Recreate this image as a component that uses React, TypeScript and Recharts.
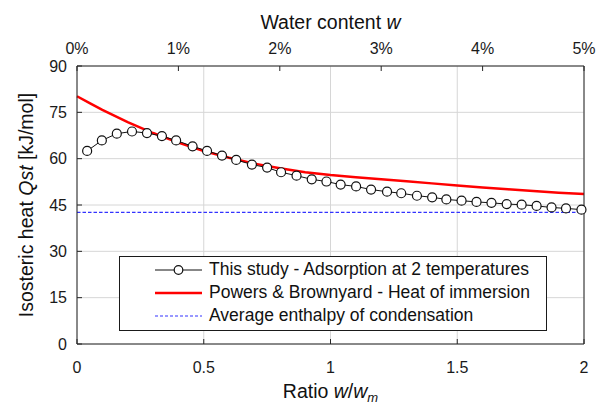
import React from 'react';
import { LineChart, Line, XAxis, YAxis, CartesianGrid, Legend } from 'recharts';

// ratio w/wm and isosteric heat (kJ/mol), this study
const studyRatio = [
  0.04, 0.098, 0.157, 0.217, 0.276, 0.335, 0.391, 0.456, 0.513, 0.572, 0.628, 0.69,
  0.75, 0.805, 0.866, 0.926, 0.984, 1.04, 1.101, 1.16, 1.223, 1.279, 1.341, 1.401,
  1.457, 1.517, 1.576, 1.635, 1.695, 1.754, 1.813, 1.872, 1.929, 1.99,
];
const studyQst = [
  62.5, 65.9, 68.1, 68.8, 68.3, 67.3, 65.9, 64.0, 62.5, 61.0, 59.6, 58.1,
  57.1, 55.6, 54.5, 53.3, 52.6, 51.6, 51.0, 50.0, 49.3, 48.8, 48.0, 47.5,
  46.8, 46.4, 46.0, 45.7, 45.3, 45.1, 44.7, 44.2, 43.9, 43.5,
];

// Powers & Brownyard, heat of immersion
const powersRatio = [0, 0.05, 0.1, 0.2, 0.3, 0.4, 0.5, 0.6, 0.7, 0.8, 0.9, 1.0, 1.1, 1.2, 1.3, 1.4, 1.5, 1.6, 1.7, 1.8, 1.9, 2.0];
const powersQst = [80.2, 78.0, 75.8, 71.8, 68.3, 65.2, 62.5, 60.3, 58.4, 56.9, 55.6, 54.7, 54.0, 53.3, 52.7, 52.0, 51.3, 50.7, 50.1, 49.5, 49.0, 48.6];

// average enthalpy of condensation, over water content 0-5 %
const avgWater = [0, 5];
const avgQst = [42.6, 42.6];

const ratioTicks = [0, 0.5, 1, 1.5, 2];
const waterTicks = [0, 1, 2, 3, 4, 5];
const qstTicks = [0, 15, 30, 45, 60, 75, 90];

const seriesNames = [
  'This study - Adsorption at 2 temperatures',
  'Powers & Brownyard - Heat of immersion',
  'Average enthalpy of condensation',
];

const studyData = studyRatio.map((x, i) => ({ x, y: studyQst[i] }));
const powersData = powersRatio.map((x, i) => ({ x, y: powersQst[i] }));
const avgData = avgWater.map((w, i) => ({ w, y: avgQst[i] }));

const FONT = '"Liberation Sans", Arial, Helvetica, sans-serif';
const AXIS = '#262626';
const tickStyle = { fontSize: 16, fill: '#1a1a1a', fontFamily: FONT };

const LegendBox = () => (
  <div
    style={{
      width: 426,
      height: 72,
      border: '1px solid #1a1a1a',
      background: '#fff',
      fontFamily: FONT,
      fontSize: 17.5,
      color: '#111',
      paddingTop: 1,
    }}
  >
    {seriesNames.map((name, i) => (
      <div key={name} style={{ display: 'flex', alignItems: 'center', height: 23.2, lineHeight: '23.2px' }}>
        <svg width={48} height={12} style={{ marginLeft: 35, marginRight: 6 }}>
          {i === 0 && (
            <>
              <line x1={0} y1={6} x2={47} y2={6} stroke="#111" strokeWidth={1} />
              <circle cx={23.5} cy={6} r={4.3} fill="#fff" stroke="#111" strokeWidth={1.2} />
            </>
          )}
          {i === 1 && <line x1={0} y1={6} x2={47} y2={6} stroke="#ff0000" strokeWidth={2.5} />}
          {i === 2 && <line x1={0} y1={6} x2={47} y2={6} stroke="#3333ff" strokeWidth={1.2} strokeDasharray="3 2" />}
        </svg>
        <span style={{ whiteSpace: 'nowrap' }}>{name}</span>
      </div>
    ))}
  </div>
);

const App = () => {
  return (
    <div style={{ position: 'absolute', left: 0, top: 0, background: '#fff' }}>
      <LineChart width={610} height={406} margin={{ top: 0, right: 0, bottom: 0, left: 0 }}>
        <CartesianGrid stroke="#d6d6d6" strokeWidth={1} />
        <XAxis
          type="number"
          dataKey="x"
          domain={[0, 2]}
          ticks={ratioTicks}
          height={62}
          stroke={AXIS}
          tick={tickStyle}
          tickSize={-5}
          tickMargin={23}
          label={(props: any) => {
            const vb = props.viewBox;
            return (
              <text x={vb.x + vb.width / 2} y={vb.y + 54.3} textAnchor="middle" fontSize={19.5} fontFamily={FONT} fill="#111">
                Ratio <tspan fontStyle="italic">w</tspan>/<tspan fontStyle="italic">w</tspan>
                <tspan fontStyle="italic" fontSize={13} dy={4}>m</tspan>
              </text>
            );
          }}
        />
        <XAxis
          xAxisId="top"
          orientation="top"
          type="number"
          dataKey="w"
          domain={[0, 5]}
          ticks={waterTicks}
          tickFormatter={(v: number) => `${v}%`}
          height={66}
          stroke={AXIS}
          tick={tickStyle}
          tickSize={-5}
          tickMargin={17}
          label={(props: any) => {
            const vb = props.viewBox;
            return (
              <text x={vb.x + vb.width / 2} y={29.3} textAnchor="middle" fontSize={19.5} fontFamily={FONT} fill="#111">
                Water content <tspan fontStyle="italic">w</tspan>
              </text>
            );
          }}
        />
        <YAxis
          type="number"
          domain={[0, 90]}
          ticks={qstTicks}
          width={77}
          stroke={AXIS}
          tick={tickStyle}
          tickSize={-5}
          tickMargin={15}
          label={(props: any) => {
            const vb = props.viewBox;
            const cx = vb.x + 33;
            const cy = vb.y + vb.height / 2;
            return (
              <text x={cx} y={cy} transform={`rotate(-90, ${cx}, ${cy})`} textAnchor="middle" fontSize={19.5} fontFamily={FONT} fill="#111">
                Isosteric heat <tspan fontStyle="italic">Qst</tspan> [kJ/mol]
              </text>
            );
          }}
        />
        <YAxis
          yAxisId="right"
          orientation="right"
          type="number"
          domain={[0, 90]}
          ticks={qstTicks}
          width={26}
          stroke={AXIS}
          tick={false}
          tickSize={-5}
        />
        <Line
          data={avgData}
          xAxisId="top"
          dataKey="y"
          name={seriesNames[2]}
          stroke="#3333ff"
          strokeWidth={1.3}
          strokeDasharray="3.5 2"
          dot={false}
          activeDot={false}
          isAnimationActive={false}
        />
        <Line
          data={powersData}
          dataKey="y"
          name={seriesNames[1]}
          stroke="#ff0000"
          strokeWidth={2.5}
          dot={false}
          activeDot={false}
          isAnimationActive={false}
        />
        <Line
          data={studyData}
          dataKey="y"
          name={seriesNames[0]}
          stroke="#111"
          strokeWidth={1}
          dot={{ r: 4.5, fill: '#fff', stroke: '#111', strokeWidth: 1.2 }}
          activeDot={false}
          isAnimationActive={false}
        />
        <Legend
          layout="vertical"
          align="center"
          verticalAlign="middle"
          content={() => <LegendBox />}
          wrapperStyle={{ left: 119, top: 256, width: 428 }}
        />
      </LineChart>
    </div>
  );
};

export default App;
